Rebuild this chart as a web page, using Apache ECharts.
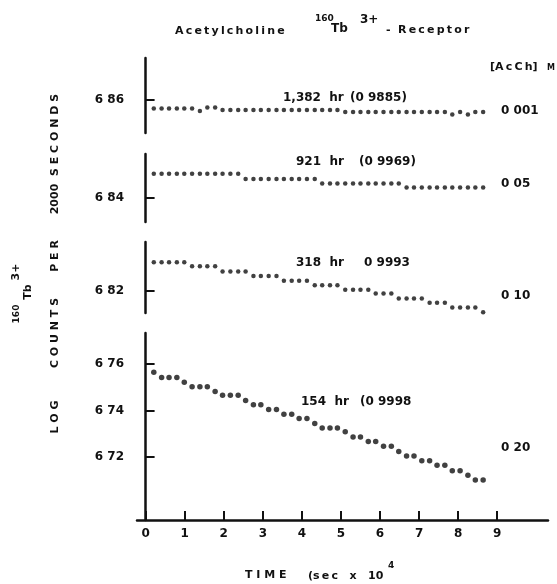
<!DOCTYPE html>
<html>
<head>
<meta charset="utf-8">
<script src="https://cdn.jsdelivr.net/npm/echarts@6/dist/echarts.min.js"></script>
<style>
  html, body { margin: 0; padding: 0; background: #fff; }
  #chart { width: 557px; height: 584px; }
</style>
</head>
<body>
<div id="chart"></div>
<script>
// time, sec x 10^4 (one count every ~2000 s)
const times = [0.21, 0.41, 0.60, 0.80, 0.99, 1.19, 1.39, 1.58, 1.78, 1.97, 2.17,
  2.37, 2.56, 2.76, 2.95, 3.15, 3.35, 3.54, 3.74, 3.93, 4.13, 4.33, 4.52, 4.72,
  4.91, 5.11, 5.31, 5.50, 5.70, 5.89, 6.09, 6.29, 6.48, 6.68, 6.87, 7.07, 7.27,
  7.46, 7.66, 7.85, 8.05, 8.25, 8.44, 8.64];

// log counts per 2000 s, one array per [AcCh]
const acch001 = [6.8563, 6.8563, 6.8563, 6.8563, 6.8563, 6.8563, 6.8553, 6.8568,
  6.8568, 6.8557, 6.8557, 6.8557, 6.8557, 6.8557, 6.8557, 6.8557, 6.8557, 6.8557,
  6.8557, 6.8557, 6.8557, 6.8557, 6.8557, 6.8557, 6.8557, 6.8548, 6.8548, 6.8548,
  6.8548, 6.8548, 6.8548, 6.8548, 6.8548, 6.8548, 6.8548, 6.8548, 6.8548, 6.8548,
  6.8548, 6.8538, 6.8548, 6.8538, 6.8548, 6.8548];
const acch005 = [6.8504, 6.8504, 6.8504, 6.8504, 6.8504, 6.8504, 6.8504, 6.8504,
  6.8504, 6.8504, 6.8504, 6.8504, 6.8482, 6.8482, 6.8482, 6.8482, 6.8482, 6.8482,
  6.8482, 6.8482, 6.8482, 6.8482, 6.8462, 6.8462, 6.8462, 6.8462, 6.8462, 6.8462,
  6.8462, 6.8462, 6.8462, 6.8462, 6.8462, 6.8445, 6.8445, 6.8445, 6.8445, 6.8445,
  6.8445, 6.8445, 6.8445, 6.8445, 6.8445, 6.8445];
const acch010 = [6.8322, 6.8322, 6.8322, 6.8322, 6.8322, 6.8304, 6.8304, 6.8304,
  6.8304, 6.8282, 6.8282, 6.8282, 6.8282, 6.8263, 6.8263, 6.8263, 6.8263, 6.8242,
  6.8242, 6.8242, 6.8242, 6.8223, 6.8223, 6.8223, 6.8223, 6.8203, 6.8203, 6.8203,
  6.8203, 6.8187, 6.8187, 6.8187, 6.8165, 6.8165, 6.8165, 6.8165, 6.8147, 6.8147,
  6.8147, 6.8127, 6.8127, 6.8127, 6.8127, 6.8106];
const acch020 = [6.7564, 6.7542, 6.7542, 6.7542, 6.7521, 6.7502, 6.7502, 6.7502,
  6.7482, 6.7465, 6.7465, 6.7465, 6.7443, 6.7424, 6.7424, 6.7404, 6.7404, 6.7384,
  6.7384, 6.7365, 6.7365, 6.7344, 6.7325, 6.7325, 6.7325, 6.7308, 6.7286, 6.7286,
  6.7266, 6.7266, 6.7246, 6.7246, 6.7224, 6.7204, 6.7204, 6.7184, 6.7184, 6.7164,
  6.7164, 6.7141, 6.7141, 6.7121, 6.7101, 6.7101];

const xTicks = [0, 1, 2, 3, 4, 5, 6, 7, 8, 9];
const yTicks = [[6.86], [6.84], [6.82], [6.76, 6.74, 6.72]];
const halfLives = ['1,382 hr', '921 hr', '318 hr', '154 hr'];
const fits = ['(0 9885)', '(0 9969)', '0 9993', '(0 9998'];
const concs = ['0 001', '0 05', '0 10', '0 20'];

const panels = [acch001, acch005, acch010, acch020];

// layout of the four stacked panels (px) and their y ranges
const gridTop = [58, 154, 242, 333];
const gridHeight = [75, 68, 71, 187];
const yMin = [6.8458, 6.8297, 6.8103, 6.6929];
const yMax = [6.8781, 6.8589, 6.8409, 6.7733];
const noteX = [283, 296, 296, 301];
const fitX = [350, 359, 364, 360];
const noteY = [98, 162, 263, 402];
const concY = [111, 184, 296, 448];

const FONT = 'DejaVu Sans';
const INK = '#111';
const THIN = '\u2009';

// the old lettering is wide, so pad letters with thin spaces
const spaced = (s, sep) => s.split('').join(sep);

const chart = echarts.init(document.getElementById('chart'), null, { renderer: 'canvas' });

const grids = panels.map((_, i) => ({
  left: 137, right: 9, top: gridTop[i], height: gridHeight[i]
}));

const xAxes = panels.map((_, i) => {
  const last = i === panels.length - 1;
  return {
    type: 'value', gridIndex: i, min: -0.22, max: 10.3,
    show: last,
    axisLine: { show: last, lineStyle: { color: INK, width: 2.5 } },
    axisTick: { show: last, inside: true, length: 9, customValues: xTicks,
      lineStyle: { color: INK, width: 2 } },
    axisLabel: { show: last, customValues: xTicks, margin: 8, color: INK,
      fontFamily: FONT, fontWeight: 'bold', fontSize: 12 },
    splitLine: { show: false }
  };
});

const yAxes = panels.map((_, i) => ({
  type: 'value', gridIndex: i, min: yMin[i], max: yMax[i],
  axisLine: { show: true, lineStyle: { color: INK, width: 2.5 } },
  axisTick: { show: true, inside: true, length: 9, customValues: yTicks[i],
    lineStyle: { color: INK, width: 2 } },
  axisLabel: { show: true, customValues: yTicks[i], margin: 13, color: INK,
    fontFamily: FONT, fontWeight: 'bold', fontSize: 12,
    formatter: v => v.toFixed(2).replace('.', ' ') },
  splitLine: { show: false }
}));

const series = panels.map((vals, i) => ({
  type: 'scatter', xAxisIndex: i, yAxisIndex: i,
  data: vals.map((v, k) => [times[k], v]),
  symbol: 'circle', symbolSize: i === 3 ? 5.5 : 4.5,
  itemStyle: { color: INK }, clip: false, silent: true
}));

const txt = (x, y, text, size, extra) => Object.assign({
  type: 'text', x, y, silent: true,
  style: Object.assign({ text, fill: INK, font: `bold ${size}px "${FONT}"`,
    align: 'left', verticalAlign: 'middle' }, extra || {})
});

const rot = (x, y, text, size) =>
  Object.assign(txt(x, y, text, size, { align: 'center' }), { rotation: Math.PI / 2 });

const graphic = [
  // title
  txt(175, 31, spaced('Acetylcholine', THIN), 11),
  txt(315, 19, '160', 9),
  txt(331, 29, 'Tb', 12),
  txt(360, 20, '3+', 12),
  txt(386, 30, '-', 11),
  txt(398, 30, spaced('Receptor', THIN), 11),
  // concentration header
  txt(490, 67, '[' + spaced('AcCh', THIN) + ']', 11),
  txt(547, 68, 'M', 8),
  // x axis title
  txt(245, 575, spaced('TIME', ' '), 11),
  txt(308, 576, '(' + spaced('sec', THIN) + '   x   10', 11),
  txt(388, 566, '4', 9),
  // rotated y axis title, bottom to top
  rot(55, 417, spaced('LOG', ' '), 11),
  rot(55, 333, spaced('COUNTS', ' '), 11),
  rot(55, 256, spaced('PER', ' '), 11),
  rot(55, 199, '2000', 11),
  rot(55, 135, spaced('SECONDS', ' '), 11),
  rot(17, 314, '160', 9),
  rot(28, 292, 'Tb', 11),
  rot(16, 272, '3+', 11)
];

panels.forEach((_, i) => {
  graphic.push(txt(noteX[i], noteY[i], halfLives[i].replace(' ', '  '), 12));
  graphic.push(txt(fitX[i], noteY[i], fits[i], 12));
  graphic.push(txt(501, concY[i], concs[i], 12));
});

chart.setOption({
  animation: false,
  backgroundColor: '#fff',
  grid: grids,
  xAxis: xAxes,
  yAxis: yAxes,
  series,
  graphic
});
</script>
</body>
</html>
